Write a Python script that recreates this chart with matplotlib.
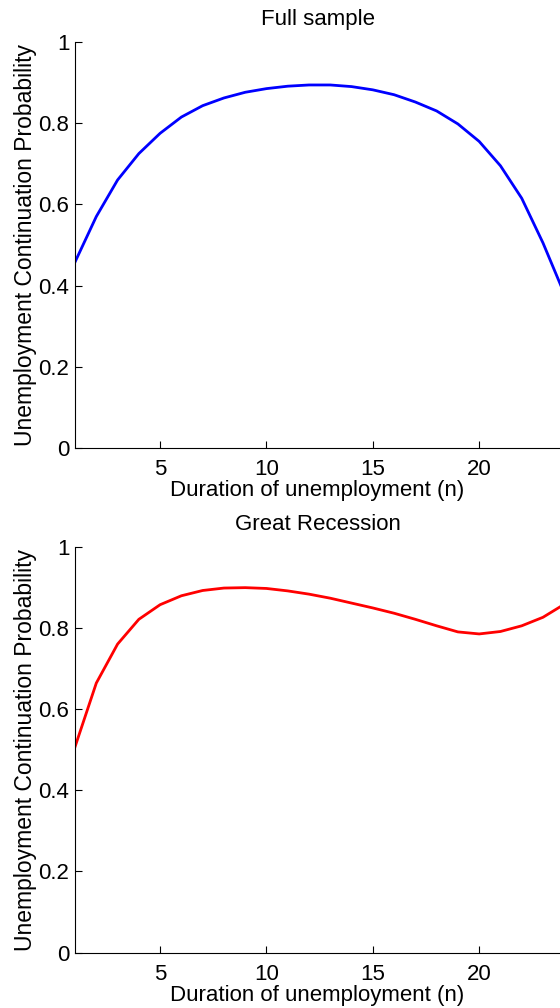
import numpy as np
import matplotlib
matplotlib.use('Agg')
import matplotlib.pyplot as plt

plt.rcParams['font.family'] = ['Liberation Sans', 'DejaVu Sans']

# duration of unemployment (months)
n = np.arange(1, 25)
# continuation probability, full sample
full_sample = [0.458, 0.570, 0.660, 0.725, 0.775, 0.815, 0.843, 0.862,
               0.876, 0.885, 0.891, 0.894, 0.894, 0.890, 0.882, 0.870,
               0.852, 0.830, 0.798, 0.755, 0.695, 0.615, 0.505, 0.380]
# continuation probability, great recession
great_recession = [0.507, 0.664, 0.760, 0.821, 0.857, 0.879, 0.892, 0.898,
                   0.899, 0.897, 0.891, 0.883, 0.873, 0.861, 0.849, 0.836,
                   0.821, 0.805, 0.790, 0.785, 0.791, 0.805, 0.826, 0.858]
titles = ['Full sample', 'Great Recession']
colors = ['blue', 'red']
xticks = [5, 10, 15, 20]
yticks = [0, 0.2, 0.4, 0.6, 0.8, 1]

fig = plt.figure(figsize=(5.6, 10.08), dpi=100)
positions = [[0.134, 0.5556, 0.866, 0.4028], [0.134, 0.0549, 0.866, 0.4028]]

for pos, series, title, col in zip(positions, [full_sample, great_recession], titles, colors):
    ax = fig.add_axes(pos)
    ax.plot(n, series, color=col, lw=2)
    ax.set_xlim(1, 23.8)
    ax.set_ylim(0, 1)
    ax.set_xticks(xticks)
    ax.set_yticks(yticks)
    ax.set_yticklabels(['0', '0.2', '0.4', '0.6', '0.8', '1'])
    ax.spines['top'].set_visible(False)
    ax.spines['right'].set_visible(False)
    ax.tick_params(direction='in', length=5, labelsize=16, width=0.8)
    ax.tick_params(axis='x', pad=8)
    ax.tick_params(axis='y', pad=4)
    ax.set_title(title, fontsize=16, pad=12)
    ax.set_xlabel('Duration of unemployment (n)', fontsize=16, labelpad=0)
    ax.set_ylabel('Unemployment Continuation Probability', fontsize=16.5, labelpad=1)

fig.savefig('out.png', dpi=100)
